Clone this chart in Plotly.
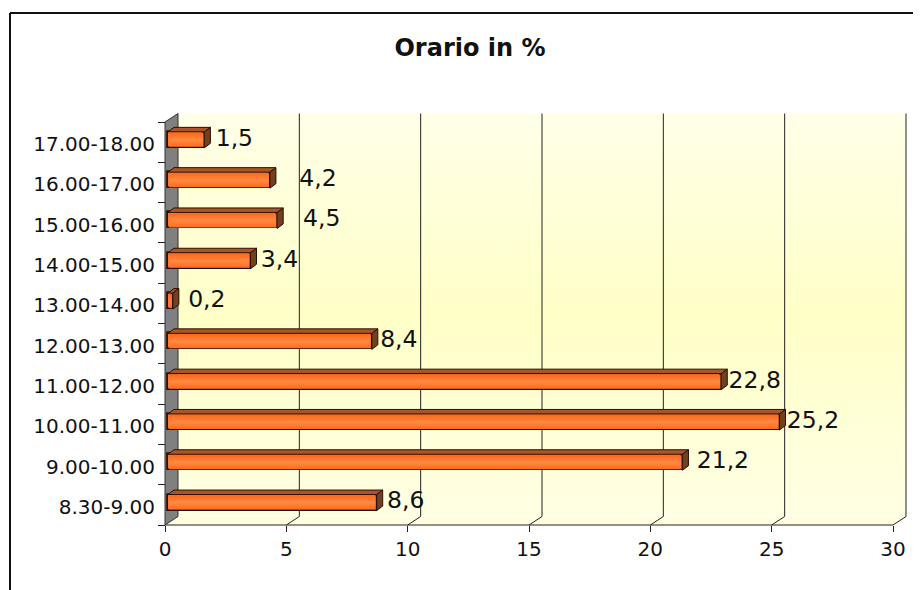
import plotly.graph_objects as go

# ---------- data ----------
categories = ["8.30-9.00", "9.00-10.00", "10.00-11.00", "11.00-12.00", "12.00-13.00",
              "13.00-14.00", "14.00-15.00", "15.00-16.00", "16.00-17.00", "17.00-18.00"]
values = [8.6, 21.2, 25.2, 22.8, 8.4, 0.2, 3.4, 4.5, 4.2, 1.5]
value_labels = ["8,6", "21,2", "25,2", "22,8", "8,4", "0,2", "3,4", "4,5", "4,2", "1,5"]
x_ticks = [0, 5, 10, 15, 20, 25, 30]
title = "Orario in %"

# ---------- layout constants (pixels, page coordinates) ----------
PAGE_OFFSET = 8          # the browser's body margin
W, H = 921 - PAGE_OFFSET, 590 - PAGE_OFFSET
X0, X1 = 165 - PAGE_OFFSET, 893 - PAGE_OFFSET   # front plane, x = 0 .. 30
Y0, Y1 = 525 - PAGE_OFFSET, 122 - PAGE_OFFSET   # front plane, bottom .. top
DX, DY = 13, 8.5         # depth of the chart box
PX = (X1 - X0) / 30
PY = (Y0 - Y1) / 10
BAR_BASE = 3 / PX
BAR_H = 16 / PY
BAR_SHIFT_Y = 2.3 / PY
BDX, BDY = 6 / PX, 4.5 / PY
label_gaps_px = [11, 15, 8, 8, 9, 16, 11, 26.5, 30, 12]
FONT = "DejaVu Sans"
TXT = "#111111"

ddx, ddy = DX / PX, DY / PY
ymin, ymax = -0.5, 9.5
n = len(categories)
ypos = [i + BAR_SHIFT_Y for i in range(n)]

# axes span the whole figure, so nothing is clipped by the 0..30 range
x_range = [(0 - X0) / PX, (W - X0) / PX]
y_range = [ymin - (H - Y0) / PY, ymin + Y0 / PY]

fig = go.Figure()


def poly(xs, ys, fill=None, line=None, width=1, grad=None, axes=("x", "y")):
    kw = dict(x=xs, y=ys, mode="lines", xaxis=axes[0], yaxis=axes[1],
              hoverinfo="skip", showlegend=False,
              line=dict(color=line or "rgba(0,0,0,0)", width=width))
    if fill or grad:
        kw["fill"] = "toself"
    if fill:
        kw["fillcolor"] = fill
    if grad:
        kw["fillgradient"] = grad
    fig.add_trace(go.Scatter(**kw))


# --- back wall, gradient
poly([ddx, 30 + ddx, 30 + ddx, ddx, ddx],
     [ymin + ddy, ymin + ddy, ymax + ddy, ymax + ddy, ymin + ddy],
     grad=dict(type="vertical",
               colorscale=[[0, "#FFFFE4"], [0.5, "#FFFFC8"], [1, "#FFFFE8"]]))
# --- floor
poly([0, 30, 30 + ddx, ddx, 0], [ymin, ymin, ymin + ddy, ymin + ddy, ymin], fill="#FFFFE0")
# --- grid
for t in x_ticks[1:]:
    poly([t, t + ddx, t + ddx], [ymin, ymin + ddy, ymax + ddy], line="#222222", width=1)
# --- baseline
poly([0, 30], [ymin, ymin], line="#222222", width=1)
# --- left wall
poly([0, ddx, ddx, 0, 0], [ymin, ymin + ddy, ymax + ddy, ymax, ymin],
     fill="#808080", line="#333333", width=1)

# --- bars (overlay subplot so they sit above the wall)
AX = ("x2", "y2")
fig.add_trace(go.Bar(y=ypos, x=values, base=BAR_BASE, orientation="h", width=BAR_H,
                     marker=dict(color="#FF7A33", line=dict(color="#2A1000", width=1.8)),
                     xaxis="x2", yaxis="y2", hoverinfo="skip", showlegend=False))
for v, y in zip(values, ypos):
    b0, b1 = BAR_BASE, BAR_BASE + v
    top, bot = y + BAR_H / 2, y - BAR_H / 2
    poly([b0, b1, b1 + BDX, b0 + BDX, b0], [top, top, top + BDY, top + BDY, top],
         fill="#A9552A", line="#2A1000", width=1, axes=AX)
    poly([b1, b1 + BDX, b1 + BDX, b1, b1], [bot, bot + BDY, top + BDY, top, bot],
         fill="#70401F", line="#2A1000", width=1, axes=AX)
    ins_x = 0.9 / PX
    ins_y = 1.0 / PY
    if b1 - b0 > 2 * ins_x:
        poly([b0 + ins_x, b1 - ins_x, b1 - ins_x, b0 + ins_x, b0 + ins_x],
             [bot + ins_y, bot + ins_y, top - ins_y, top - ins_y, bot + ins_y],
             grad=dict(type="vertical",
                       colorscale=[[0, "#FF6A1E"], [0.5, "#FF8A42"], [1, "#FF661A"]]),
             axes=AX)

# --- value labels
fig.add_trace(go.Scatter(
    x=[BAR_BASE - 0.7 / PX + v + g / PX for v, g in zip(values, label_gaps_px)],
    y=ypos,
    text=value_labels, mode="text", textposition="middle right",
    textfont=dict(family=FONT, size=23.5, color=TXT),
    xaxis="x2", yaxis="y2", hoverinfo="skip", showlegend=False))

boundaries = [ymin + i for i in range(n + 1)]

fig.update_layout(
    width=W, height=H, autosize=False,
    margin=dict(l=0, r=0, t=0, b=0, pad=0, autoexpand=False),
    paper_bgcolor="white", plot_bgcolor="rgba(0,0,0,0)",
    showlegend=False, bargap=0,
    font=dict(family=FONT, color=TXT),
    xaxis=dict(domain=[0, 1], range=x_range, visible=False),
    yaxis=dict(domain=[0, 1], range=y_range, visible=False),
    xaxis2=dict(domain=[0, 1], range=x_range, overlaying="x", anchor="free",
                position=1 - Y0 / H, side="bottom",
                tickmode="array", tickvals=x_ticks, ticks="outside", ticklen=6,
                tickcolor="#222222", showgrid=False, zeroline=False, showline=False,
                ticklabelstandoff=0,
                tickfont=dict(family=FONT, size=20, color=TXT)),
    yaxis2=dict(domain=[0, 1], range=y_range, overlaying="y", anchor="free",
                position=X0 / W, side="left",
                tickmode="array", tickvals=[i - 2 / PY for i in range(n)], ticktext=categories,
                ticks="", showgrid=False, zeroline=False, showline=False,
                ticklabelstandoff=10,
                minor=dict(tickmode="array", tickvals=boundaries, ticks="outside",
                           ticklen=7, tickcolor="#222222", tickwidth=1, showgrid=False),
                tickfont=dict(family=FONT, size=20, color=TXT)),
    title=dict(text=f"<b>{title}</b>", x=(470 - PAGE_OFFSET) / W, xanchor="center",
               y=1 - (48 - PAGE_OFFSET) / H, yanchor="middle",
               font=dict(family=FONT, size=24, color=TXT)),
    shapes=[
        dict(type="line", xref="paper", yref="paper",
             x0=(10 - PAGE_OFFSET) / W, x1=1, y0=1 - (13 - PAGE_OFFSET) / H, y1=1 - (13 - PAGE_OFFSET) / H,
             line=dict(color="#111111", width=2)),
        dict(type="line", xref="paper", yref="paper",
             x0=(10 - PAGE_OFFSET) / W, x1=(10 - PAGE_OFFSET) / W, y0=0, y1=1 - (13 - PAGE_OFFSET) / H,
             line=dict(color="#111111", width=2)),
    ],
)

fig.write_html("out.html")
